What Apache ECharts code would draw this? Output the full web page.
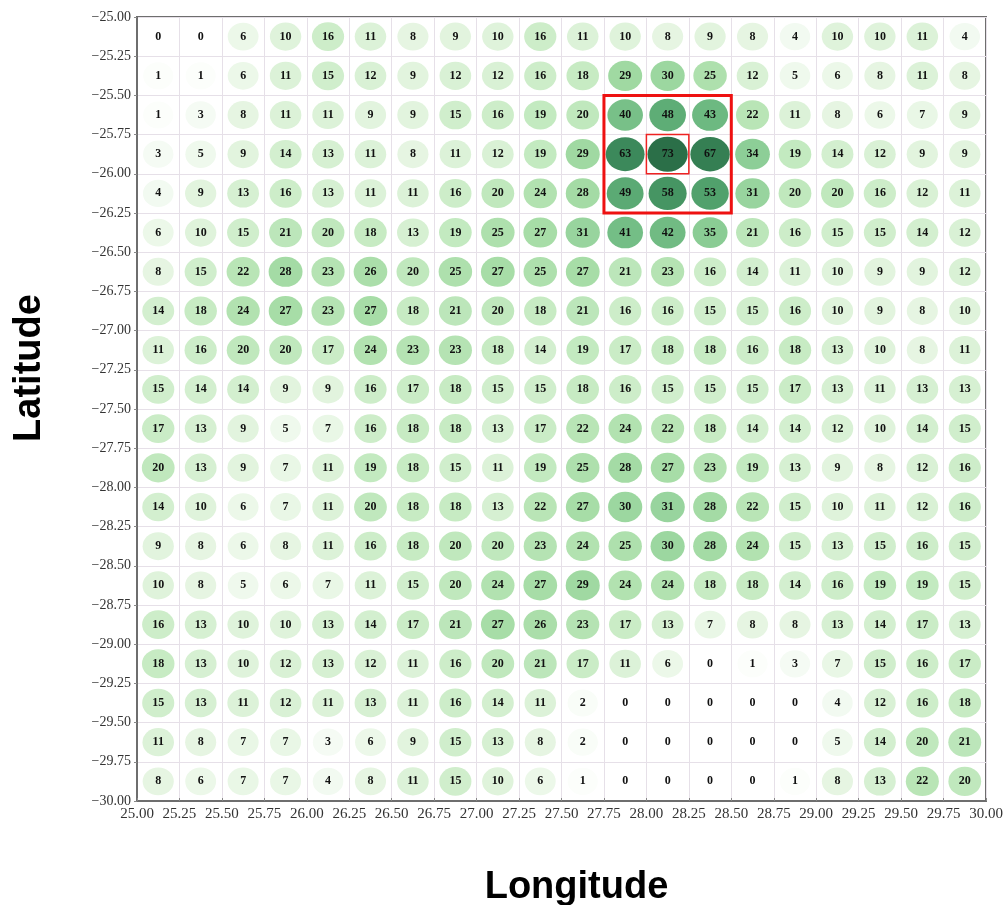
<!DOCTYPE html>
<html>
<head>
<meta charset="utf-8">
<script src="https://cdn.jsdelivr.net/npm/echarts@6/dist/echarts.min.js"></script>
<style>
html,body{margin:0;padding:0;background:#fff;}
#chart{width:1007px;height:905px;}
</style>
</head>
<body>
<div id="chart"></div>
<script>
// Cell centers (longitude, latitude)
const lonCenters = [25.125, 25.375, 25.625, 25.875, 26.125, 26.375, 26.625, 26.875, 27.125, 27.375,
                    27.625, 27.875, 28.125, 28.375, 28.625, 28.875, 29.125, 29.375, 29.625, 29.875];
const latCenters = [-25.125, -25.375, -25.625, -25.875, -26.125, -26.375, -26.625, -26.875, -27.125, -27.375,
                    -27.625, -27.875, -28.125, -28.375, -28.625, -28.875, -29.125, -29.375, -29.625, -29.875];
// Counts per cell, one row per latitude (top to bottom)
const counts = [
  [0, 0, 6, 10, 16, 11, 8, 9, 10, 16, 11, 10, 8, 9, 8, 4, 10, 10, 11, 4],
  [1, 1, 6, 11, 15, 12, 9, 12, 12, 16, 18, 29, 30, 25, 12, 5, 6, 8, 11, 8],
  [1, 3, 8, 11, 11, 9, 9, 15, 16, 19, 20, 40, 48, 43, 22, 11, 8, 6, 7, 9],
  [3, 5, 9, 14, 13, 11, 8, 11, 12, 19, 29, 63, 73, 67, 34, 19, 14, 12, 9, 9],
  [4, 9, 13, 16, 13, 11, 11, 16, 20, 24, 28, 49, 58, 53, 31, 20, 20, 16, 12, 11],
  [6, 10, 15, 21, 20, 18, 13, 19, 25, 27, 31, 41, 42, 35, 21, 16, 15, 15, 14, 12],
  [8, 15, 22, 28, 23, 26, 20, 25, 27, 25, 27, 21, 23, 16, 14, 11, 10, 9, 9, 12],
  [14, 18, 24, 27, 23, 27, 18, 21, 20, 18, 21, 16, 16, 15, 15, 16, 10, 9, 8, 10],
  [11, 16, 20, 20, 17, 24, 23, 23, 18, 14, 19, 17, 18, 18, 16, 18, 13, 10, 8, 11],
  [15, 14, 14, 9, 9, 16, 17, 18, 15, 15, 18, 16, 15, 15, 15, 17, 13, 11, 13, 13],
  [17, 13, 9, 5, 7, 16, 18, 18, 13, 17, 22, 24, 22, 18, 14, 14, 12, 10, 14, 15],
  [20, 13, 9, 7, 11, 19, 18, 15, 11, 19, 25, 28, 27, 23, 19, 13, 9, 8, 12, 16],
  [14, 10, 6, 7, 11, 20, 18, 18, 13, 22, 27, 30, 31, 28, 22, 15, 10, 11, 12, 16],
  [9, 8, 6, 8, 11, 16, 18, 20, 20, 23, 24, 25, 30, 28, 24, 15, 13, 15, 16, 15],
  [10, 8, 5, 6, 7, 11, 15, 20, 24, 27, 29, 24, 24, 18, 18, 14, 16, 19, 19, 15],
  [16, 13, 10, 10, 13, 14, 17, 21, 27, 26, 23, 17, 13, 7, 8, 8, 13, 14, 17, 13],
  [18, 13, 10, 12, 13, 12, 11, 16, 20, 21, 17, 11, 6, 0, 1, 3, 7, 15, 16, 17],
  [15, 13, 11, 12, 11, 13, 11, 16, 14, 11, 2, 0, 0, 0, 0, 0, 4, 12, 16, 18],
  [11, 8, 7, 7, 3, 6, 9, 15, 13, 8, 2, 0, 0, 0, 0, 0, 5, 14, 20, 21],
  [8, 6, 7, 7, 4, 8, 11, 15, 10, 6, 1, 0, 0, 0, 0, 1, 8, 13, 22, 20]
];
// Highlight boxes (data coordinates)
const bigBox = {lon: [27.75, 28.5], lat: [-25.5, -26.25]};
const smallBox = {lon: [28.0, 28.25], lat: [-25.75, -26.0]};

const data = [];
counts.forEach((row, r) => row.forEach((v, c) => data.push([lonCenters[c], latCenters[r], v])));

const fmtMinus = v => v.toFixed(2).replace('-', '\u2212');

const chart = echarts.init(document.getElementById('chart'));
chart.setOption({
  animation: false,
  backgroundColor: '#fff',
  grid: {left: 137, right: 21, top: 17, bottom: 104, show: true, borderColor: '#6e6e6e', borderWidth: 2,
         containLabel: false, outerBoundsMode: 'none'},
  xAxis: {
    type: 'value', min: 25, max: 30, interval: 0.25,
    name: 'Longitude', nameLocation: 'middle', nameGap: 68,
    nameTextStyle: {fontFamily: 'Liberation Sans', fontWeight: 'bold', fontSize: 38, color: '#000', padding: [0, 0, 0, 30]},
    axisLine: {show: true, onZero: false, lineStyle: {color: '#6e6e6e', width: 2}},
    axisTick: {show: true, inside: true, length: 3, lineStyle: {color: '#888'}},
    splitLine: {show: true, lineStyle: {color: '#e6e0e8', width: 1}},
    axisLabel: {formatter: fmtMinus, fontFamily: 'Liberation Serif', fontSize: 15, color: '#333', margin: 6, showMinLabel: true, showMaxLabel: true}
  },
  yAxis: {
    type: 'value', min: -30, max: -25, interval: 0.25,
    name: 'Latitude', nameLocation: 'middle', nameGap: 88, nameRotate: 90,
    nameTextStyle: {fontFamily: 'Liberation Sans', fontWeight: 'bold', fontSize: 38, color: '#000', padding: [0, 0, 0, 82]},
    axisLine: {show: true, onZero: false, lineStyle: {color: '#6e6e6e', width: 2}},
    axisTick: {show: true, inside: false, length: 3, lineStyle: {color: '#888'}},
    splitLine: {show: true, lineStyle: {color: '#e6e0e8', width: 1}},
    axisLabel: {formatter: fmtMinus, fontFamily: 'Liberation Serif', fontSize: 14, color: '#333', margin: 6, showMinLabel: true, showMaxLabel: true}
  },
  visualMap: {
    show: false, type: 'continuous', dimension: 2, min: 0, max: 73,
    inRange: {color: ['#ffffff', '#e2f4de', '#c6ebc2', '#a6dca6', '#84c991', '#64b27a', '#4c9d69', '#3a8759', '#2b6f48']}
  },
  series: [{
    type: 'scatter',
    data: data,
    symbol: 'circle',
    symbolSize: v => [30 + v[2] * 0.14, 27 + v[2] * 0.11],
    itemStyle: {opacity: 1},
    label: {
      show: true, position: 'inside',
      formatter: p => String(p.value[2]),
      fontFamily: 'Liberation Serif', fontWeight: 'bold', fontSize: 12, color: '#111'
    },
    markArea: {
      silent: true,
      data: [
        [{coord: [bigBox.lon[0], bigBox.lat[0]], itemStyle: {color: 'rgba(0,0,0,0)', borderColor: '#ee1111', borderWidth: 3}},
         {coord: [bigBox.lon[1], bigBox.lat[1]]}],
        [{coord: [smallBox.lon[0], smallBox.lat[0]], itemStyle: {color: 'rgba(0,0,0,0)', borderColor: '#ee2222', borderWidth: 1.5}},
         {coord: [smallBox.lon[1], smallBox.lat[1]]}]
      ]
    }
  }]
});
</script>
</body>
</html>
